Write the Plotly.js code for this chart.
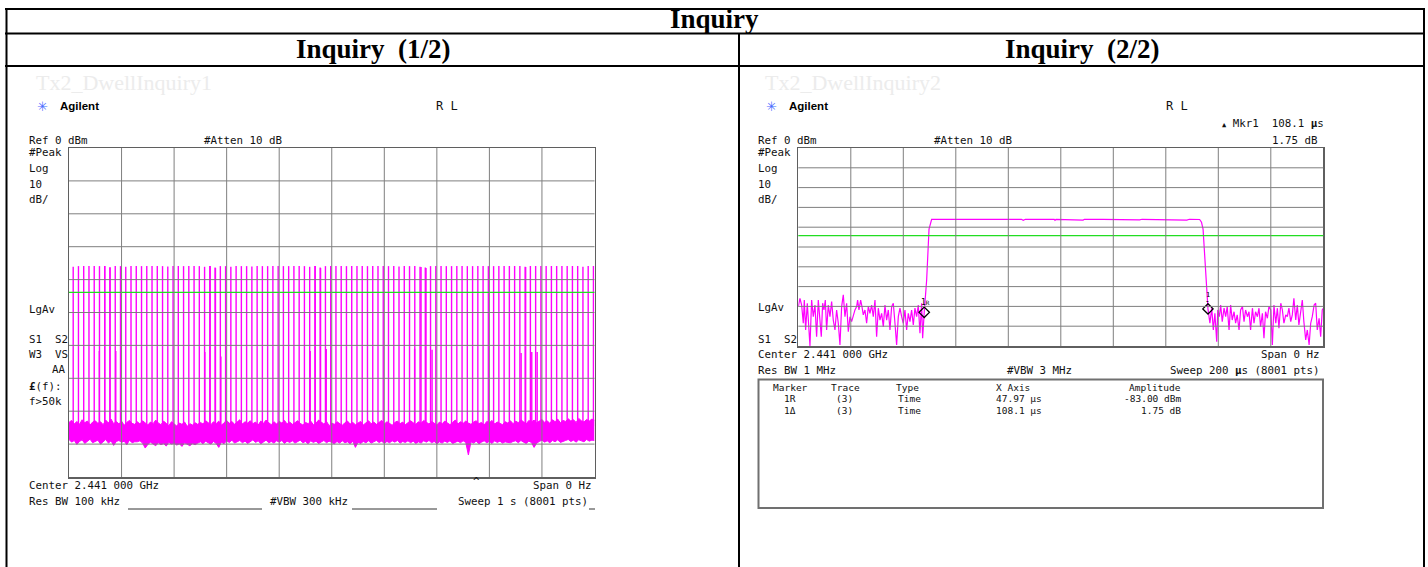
<!DOCTYPE html>
<html><head><meta charset="utf-8">
<script src="https://cdn.plot.ly/plotly-3.0.1.min.js"></script>
<style>html,body{margin:0;padding:0;background:#fff;}#chart{width:1428px;height:567px;}</style>
</head><body><div id="chart"></div>
<script>
// ---------------- DATA ----------------
// Left screen: sweep 1 s (ms), amplitude dBm
const sweepLeftMs = [0, 1000];
const ampRange = [-100, 0];
const pulseT = [8,18,28,38,48,58,68,78,88,98,108,118,128,138,148,158,168,178,188,198,
  208,218,228,238,248,258,268,278,288,298,308,318,328,338,348,358,368,378,388,398,
  408,418,428,438,448,458,468,478,488,498,508,518,528,538,548,558,568,578,588,598,
  608,618,628,638,648,658,668,678,688,698,708,718,728,738,748,758,768,778,788,798,
  808,818,828,838,848,858,868,878,888,898,908,918,928,938,948,958,968,978,988,998];
const pulsePk = [-36.1,-35.9,-35.9,-35.9,-35.9,-35.9,-35.9,-36.2,-35.9,-35.9,
  -36.1,-35.9,-35.9,-35.9,-35.9,-35.9,-35.9,-35.9,-36.0,-35.9,
  -35.9,-35.9,-35.9,-35.9,-35.9,-36.1,-35.9,-36.3,-35.9,-35.9,
  -36.1,-35.9,-35.9,-35.9,-36.0,-35.9,-35.9,-35.9,-35.9,-35.9,
  -35.9,-35.9,-35.9,-35.9,-35.9,-36.1,-35.9,-36.3,-35.9,-35.9,
  -35.9,-35.9,-35.9,-35.9,-35.9,-35.9,-35.9,-35.9,-35.9,-35.9,
  -35.9,-35.9,-36.0,-35.9,-35.9,-35.9,-36.1,-36.3,-35.9,-35.9,
  -35.9,-35.9,-35.9,-35.9,-35.9,-35.9,-35.9,-35.9,-35.9,-35.9,
  -35.9,-35.9,-35.9,-35.9,-35.9,-35.9,-36.1,-35.9,-35.9,-35.9,
  -35.9,-35.9,-35.9,-35.9,-35.9,-35.9,-35.9,-36.1,-35.9,-35.9];
const extraT  = [57.7,68,78,89, 258.5,268.6,278.7,289, 459,468.6,478.7,489.5, 657.7,669.9,679.4,690.9, 860.4,869,880.6,890.9];
const extraPk = [-61.7,-35.9,-36.5,-61.7, -62.0,-35.9,-36.5,-63.4, -61.7,-35.9,-36.5,-61.1, -61.0,-36.2,-36.5,-61.3, -62.3,-36.2,-62.0,-62.0];
const pulseFoot = -84.5;
const noiseStepMs = 5;
const noiseTop = [-83.4,-82.8,-83.9,-83.1,-84.0,-82.6,-83.5,-83.0,-84.2,-83.3,
-82.9,-83.7,-83.2,-84.1,-82.7,-83.6,-82.4,-83.8,-83.1,-83.9,
-83.0,-84.3,-83.4,-82.8,-83.7,-84.0,-83.2,-83.9,-82.9,-83.5,
-84.2,-83.3,-83.8,-82.7,-83.6,-84.1,-83.0,-83.7,-84.4,-83.2,
-83.9,-84.5,-83.6,-84.0,-83.3,-84.6,-83.8,-84.2,-83.5,-84.0,
-83.4,-83.9,-82.9,-83.6,-84.1,-83.2,-83.8,-83.0,-84.3,-83.5,
-82.8,-83.7,-83.1,-84.0,-83.4,-82.6,-83.9,-83.2,-83.6,-82.9,
-83.8,-83.3,-84.2,-83.0,-83.7,-82.7,-83.5,-84.1,-83.2,-83.9,
-83.1,-83.6,-82.8,-83.9,-83.3,-84.0,-83.5,-82.9,-83.7,-84.2,
-83.4,-83.8,-83.0,-84.1,-83.6,-82.7,-83.3,-83.9,-83.1,-84.4,
-83.6,-84.0,-83.2,-83.8,-84.3,-83.5,-83.0,-83.9,-83.4,-84.1,
-83.7,-83.1,-84.2,-83.6,-82.9,-83.8,-83.3,-84.0,-83.5,-82.8,
-83.9,-83.2,-83.7,-84.3,-83.4,-83.0,-83.8,-83.3,-84.1,-83.6,
-82.9,-83.5,-84.0,-83.2,-83.7,-82.8,-83.4,-83.9,-83.1,-83.6,
-84.2,-83.3,-83.8,-83.0,-83.5,-84.1,-83.4,-82.7,-83.9,-83.2,
-83.7,-83.0,-83.6,-84.0,-83.3,-82.9,-83.8,-83.4,-84.2,-83.1,
-83.5,-82.8,-83.9,-83.3,-83.7,-84.1,-83.2,-83.6,-82.9,-83.8,
-83.0,-83.5,-82.6,-83.4,-83.9,-82.8,-83.3,-82.7,-83.6,-83.0,
-82.5,-83.4,-82.9,-83.7,-82.6,-83.2,-82.4,-83.5,-82.8,-83.1,
-82.3,-83.0,-82.6,-83.4,-82.2,-82.9,-83.3,-82.5,-83.0,-82.4,
-82.7];
const noiseBot = [-88.6,-89.4,-88.9,-90.1,-89.2,-88.7,-89.8,-89.0,-88.5,-89.6,
-89.1,-88.8,-90.0,-89.3,-88.6,-89.7,-89.0,-90.4,-89.2,-88.9,
-89.5,-89.1,-90.2,-88.8,-89.6,-89.3,-89.3,-89.0,-89.7,-91.2,
-90.1,-89.4,-89.9,-90.5,-89.6,-90.2,-89.8,-90.6,-89.5,-90.0,
-89.7,-90.3,-89.9,-90.7,-89.6,-90.1,-90.5,-89.8,-90.2,-89.7,
-89.3,-89.9,-89.1,-89.6,-90.0,-89.2,-89.8,-91.0,-89.4,-89.9,
-89.0,-89.5,-88.8,-89.7,-89.2,-88.9,-89.6,-89.1,-89.8,-89.3,
-88.7,-89.5,-89.0,-89.9,-89.3,-88.8,-89.6,-89.2,-89.7,-89.0,
-89.4,-88.9,-89.8,-89.1,-89.5,-89.0,-89.7,-89.3,-88.8,-89.6,
-89.2,-89.9,-89.0,-89.5,-89.1,-89.8,-89.4,-88.9,-89.6,-89.1,
-89.5,-89.9,-89.2,-89.7,-89.0,-89.6,-89.3,-89.9,-89.1,-91.0,
-89.4,-89.8,-89.2,-89.6,-89.0,-89.7,-89.3,-88.9,-89.5,-89.1,
-89.8,-89.2,-89.6,-89.0,-89.4,-88.9,-89.7,-89.2,-89.5,-89.0,
-89.6,-89.1,-89.8,-89.3,-89.7,-89.0,-89.4,-88.9,-89.6,-89.2,
-89.9,-89.3,-89.7,-89.1,-89.5,-89.0,-89.8,-89.4,-89.1,-89.6,
-89.0,-89.5,-93.3,-89.3,-89.7,-89.1,-89.9,-89.4,-89.0,-89.6,
-89.2,-89.8,-89.0,-89.5,-89.1,-89.7,-89.3,-89.5,-89.6,-89.2,
-89.0,-89.6,-88.9,-89.4,-89.8,-89.1,-89.5,-91.0,-89.7,-89.2,
-88.8,-89.4,-89.0,-89.6,-88.9,-89.3,-88.7,-89.5,-89.1,-88.9,
-88.6,-89.2,-88.8,-89.4,-88.7,-89.0,-89.3,-88.6,-89.1,-88.8,
-88.9];
const displayLineLeft = -43.9;

// Right screen: sweep 200 us, amplitude dBm
const sweepRightUs = [0, 200];
const traceT = [0,0.63,1.27,1.9,2.29,2.79,3.43,3.94,4.44,5.08,5.71,6.35,6.98,7.62,8.25,8.76,9.27,9.78,10.29,10.79,
 11.43,12.06,12.7,13.33,13.97,14.6,15.24,15.87,16.51,17.14,17.78,18.41,19.05,19.68,20.32,20.95,21.59,22.22,22.6,23.11,
 23.75,24.25,24.76,25.4,26.03,26.67,27.3,27.94,28.57,29.21,29.84,30.48,31.11,31.75,32.38,33.02,33.65,34.29,34.92,35.56,
 36.19,36.83,37.46,38.1,38.73,39.37,40,40.63,41.27,41.9,42.54,43.17,43.81,44.44,45.08,45.71,46.35,46.98,47.37,47.97,
 48.9,49.8,50.8,60,70,85,85.7,86.5,97.5,97.8,98.2,106.6,108.5,109,115,116,130,131,148,149,152.9,153.6,154.2,154.9,155.3,155.8,156.07,
 156.8,157.5,158.1,158.7,159.4,159.8,160.4,160.9,161.5,162.2,162.8,163.4,164.1,164.7,165.3,166.0,166.6,167.2,167.9,168.5,
 169.2,169.8,170.4,171.1,171.7,172.3,173.0,173.6,174.2,174.9,175.5,176.1,176.8,177.4,178.0,178.7,179.3,180.0,180.6,181.2,
 181.9,182.5,183.1,183.8,184.4,185.0,185.7,186.3,186.9,187.6,188.2,188.8,189.5,190.1,190.7,191.4,192.0,192.6,193.3,193.9,
 194.6,195.2,195.8,196.5,197.1,197.7,198.4,199.0,199.6,200.0];
const traceV = [-80.1,-75.9,-79.3,-88.5,-76.8,-91.9,-78.4,-90.2,-100,-76.8,-85.2,-79.3,-95.3,-76.8,-87.7,-95.3,-78.4,-81.8,-76.8,-91.9,
 -79.3,-85.2,-77.6,-86.9,-91.9,-81.8,-88.5,-99.5,-80.1,-74.2,-85.2,-78.4,-92.8,-85.2,-87.7,-84.3,-81.8,-80.1,-76.8,-81.8,
 -76.8,-80.1,-84.3,-81.8,-88.5,-80.1,-83.5,-79.3,-85.2,-76.8,-95.3,-80.9,-86.9,-83.5,-90.2,-79.3,-86.9,-81.8,-91.9,-80.1,
 -78.4,-88.5,-99.5,-85.2,-80.9,-85.2,-88.5,-81.8,-91.9,-83.5,-87.7,-81.8,-89.4,-80.9,-85.2,-79.3,-93.6,-78.4,-96.1,-83.0,
 -66.7,-41,-36,-36.0,-36.0,-36.0,-36.5,-36.0,-36.0,-36.5,-36.0,-36.4,-36.4,-36.0,-36.3,-36.0,-36.3,-36.0,-36.4,-36.0,-36.1,-37.5,-41,-55,-63,-78,-81.25,
 -88.5,-80.9,-91.9,-83.5,-97.8,-81.8,-85.2,-79.3,-87.7,-80.9,-85.2,-80.1,-91.9,-79.3,-86.9,-82.7,-88.5,-84.3,-91.9,-81.8,
 -80.1,-87.7,-81.8,-85.2,-82.7,-91.9,-80.9,-88.5,-82.7,-85.2,-80.9,-90.2,-83.5,-96.1,-82.7,-86.0,-80.1,-81.8,-99.5,-79.3,
 -88.5,-80.9,-91.0,-78.4,-81.8,-88.5,-84.3,-85.2,-80.9,-87.7,-84.3,-75.9,-86.9,-79.3,-89.4,-81.8,-76.8,-87.7,-96.9,-91.9,
 -99.5,-88.5,-85.2,-79.3,-78.4,-91.9,-86.0,-95.3,-81.8,-80.9];
const markerT = [47.97, 156.07];
const markerV = [-83.0, -81.25];
const displayLineRight = -44.3;

// ---------------- LAYOUT HELPERS ----------------
const W = 1428, H = 567;
const X = p => p / W, Y = p => 1 - p / H;
const MONO = 'DejaVu Sans Mono', SERIF = 'Liberation Serif', SANS = 'Liberation Sans';
const MAG = '#ff00ff', GRID = '#7f7f7f';

function txt(text, x, y, o = {}) {
  const a = {text, x: X(x), y: Y(y), xref: 'paper', yref: 'paper', showarrow: false,
    xanchor: 'left', yanchor: 'middle', borderpad: 0,
    font: {family: MONO, size: 10.8, color: '#111'}};
  return Object.assign(a, o, {font: Object.assign({}, a.font, o.font || {})});
}
function pline(x0, y0, x1, y1, color = '#000', width = 2) {
  return {type: 'line', xref: 'paper', yref: 'paper', x0: X(x0), y0: Y(y0), x1: X(x1), y1: Y(y1), line: {color, width}, layer: 'above'};
}
function grid(xa, ya, xr, yr) {
  const s = [];
  for (let k = 1; k < 10; k++) {
    const xv = xr[0] + (xr[1] - xr[0]) * k / 10;
    s.push({type: 'line', xref: xa, yref: ya + ' domain', x0: xv, x1: xv, y0: 0, y1: 1, line: {color: GRID, width: 1}, layer: 'above'});
    const yv = yr[0] + (yr[1] - yr[0]) * k / 10;
    s.push({type: 'line', xref: xa + ' domain', yref: ya, x0: 0, x1: 1, y0: yv, y1: yv, line: {color: GRID, width: 1}, layer: 'above'});
  }
  return s;
}

// ---------------- TRACES ----------------
const noiseT = noiseTop.map((_, i) => i * noiseStepMs);
const px = [], py = [];
pulseT.forEach((t, i) => { px.push(t, t, null); py.push(pulseFoot, pulsePk[i], null); });
extraT.forEach((t, i) => { px.push(t, t, null); py.push(pulseFoot, extraPk[i], null); });

const traces = [
  {x: noiseT, y: noiseBot, xaxis: 'x', yaxis: 'y', mode: 'lines', line: {color: MAG, width: 1}, hoverinfo: 'skip'},
  {x: noiseT, y: noiseTop, xaxis: 'x', yaxis: 'y', mode: 'lines', fill: 'tonexty', fillcolor: MAG, line: {color: MAG, width: 1}, hoverinfo: 'skip'},
  {x: px, y: py, xaxis: 'x', yaxis: 'y', mode: 'lines', connectgaps: false, line: {color: MAG, width: 1.4}, hoverinfo: 'skip'},
  {x: traceT, y: traceV, xaxis: 'x2', yaxis: 'y2', mode: 'lines', line: {color: MAG, width: 1.2}, hoverinfo: 'skip'},
  {x: markerT, y: markerV, xaxis: 'x2', yaxis: 'y2', mode: 'markers', marker: {symbol: 'diamond-open', size: 8, color: '#000', line: {width: 1.3, color: '#000'}}, hoverinfo: 'skip'}
];

// ---------------- SHAPES ----------------
const shapes = [
  // table
  pline(5, 9, 1425, 9), pline(5, 33.5, 1425, 33.5), pline(5, 66, 1425, 66),
  pline(6.5, 8, 6.5, 567), pline(739, 33, 739, 567), pline(1424, 8, 1424, 567),
  // underlines left
  pline(128, 509, 262, 509, '#333', 1), pline(352, 509, 437, 509, '#333', 1), pline(589, 509, 595, 509, '#333', 1),
  // marker table box right
  {type: 'rect', xref: 'paper', yref: 'paper', x0: X(758.5), x1: X(1323), y0: Y(379.5), y1: Y(508), line: {color: '#707070', width: 2}},
  // display lines
  {type: 'line', xref: 'x domain', yref: 'y', x0: 0, x1: 1, y0: displayLineLeft, y1: displayLineLeft, line: {color: '#22dd22', width: 1.3}, layer: 'above'},
  {type: 'line', xref: 'x2 domain', yref: 'y2', x0: 0, x1: 1, y0: displayLineRight, y1: displayLineRight, line: {color: '#22dd22', width: 1.3}, layer: 'above'},
  ...grid('x', 'y', sweepLeftMs, ampRange),
  ...grid('x2', 'y2', sweepRightUs, ampRange)
];

// ---------------- ANNOTATIONS ----------------
const TITLE = {family: SERIF, size: 27, color: '#000'};
const TBL = {size: 9.5};
const LOGO = {family: 'DejaVu Sans', size: 13, color: '#4a6cff'};
const ann = [
  txt('<b>Inquiry</b>', 714, 19, {xanchor: 'center', font: TITLE}),
  txt('<b>Inquiry  (1/2)</b>', 373, 49, {xanchor: 'center', font: TITLE}),
  txt('<b>Inquiry  (2/2)</b>', 1082, 49, {xanchor: 'center', font: TITLE}),
  // left screen
  txt('Tx2_DwellInquiry1', 35, 82, {font: {family: SERIF, size: 22, color: '#ececec'}}),
  txt('✳', 42, 106, {xanchor: 'center', font: LOGO}),
  txt('<b>Agilent</b>', 59, 106, {font: {family: SANS, size: 11.5, color: '#000'}}),
  txt('R L', 435, 106, {font: {size: 12}}),
  txt('Ref 0 dBm', 28, 140), txt('#Atten 10 dB', 203, 140),
  txt('#Peak', 28, 153), txt('Log', 28, 169), txt('10', 28, 184), txt('dB/', 28, 199),
  txt('LgAv', 28, 309), txt('S1  S2', 28, 339), txt('W3  VS', 28, 354),
  txt('AA', 67, 369, {xanchor: 'right'}), txt('<b>£</b>(f):', 28, 386), txt('f>50k', 28, 401),
  txt('Center 2.441 000 GHz', 28, 485), txt('Span 0 Hz', 593, 485, {xanchor: 'right'}),
  txt('^', 477, 481, {xanchor: 'center'}),
  txt('Res BW 100 kHz', 28, 501), txt('#VBW 300 kHz', 269, 501),
  txt('Sweep 1 s (8001 pts)', 589, 501, {xanchor: 'right'}),
  // right screen
  txt('Tx2_DwellInquiry2', 764, 82, {font: {family: SERIF, size: 22, color: '#ececec'}}),
  txt('✳', 771, 106, {xanchor: 'center', font: LOGO}),
  txt('<b>Agilent</b>', 788, 106, {font: {family: SANS, size: 11.5, color: '#000'}}),
  txt('R L', 1165, 106, {font: {size: 12}}),
  txt('<span style="font-size:7px">▲</span> Mkr1  108.1 <b>µ</b>s', 1325, 123, {xanchor: 'right'}),
  txt('Ref 0 dBm', 757, 140), txt('#Atten 10 dB', 933, 140), txt('1.75 dB', 1319, 140, {xanchor: 'right'}),
  txt('#Peak', 757, 153), txt('Log', 757, 169), txt('10', 757, 184), txt('dB/', 757, 199),
  txt('LgAv', 757, 307), txt('S1  S2', 757, 339),
  txt('Center 2.441 000 GHz', 757, 354), txt('Span 0 Hz', 1321, 354, {xanchor: 'right'}),
  txt('Res BW 1 MHz', 757, 370), txt('#VBW 3 MHz', 1006, 370),
  txt('Sweep 200 <b>µ</b>s (8001 pts)', 1321, 370, {xanchor: 'right'}),
  // marker table
  txt('Marker', 772, 387, {font: TBL}), txt('Trace', 830, 387, {font: TBL}), txt('Type', 895, 387, {font: TBL}),
  txt('X Axis', 995, 387, {font: TBL}), txt('Amplitude', 1182, 387, {xanchor: 'right', font: TBL}),
  txt('1R', 783, 398.5, {font: TBL}), txt('(3)', 835, 398.5, {font: TBL}), txt('Time', 897, 398.5, {font: TBL}),
  txt('47.97 µs', 995, 398.5, {font: TBL}), txt('-83.00 dBm', 1182, 398.5, {xanchor: 'right', font: TBL}),
  txt('1Δ', 783, 410.5, {font: TBL}), txt('(3)', 835, 410.5, {font: TBL}), txt('Time', 897, 410.5, {font: TBL}),
  txt('108.1 µs', 995, 410.5, {font: TBL}), txt('1.75 dB', 1182, 410.5, {xanchor: 'right', font: TBL}),
  // marker labels on trace
  {text: '1<span style="font-size:6px">R</span>', x: markerT[0], y: markerV[0], xref: 'x2', yref: 'y2', showarrow: false, yshift: 10, xshift: 1, font: {family: MONO, size: 8, color: '#000'}},
  {text: '1', x: markerT[1], y: markerV[1], xref: 'x2', yref: 'y2', showarrow: false, yshift: 14, font: {family: MONO, size: 7, color: '#000'}},
  {text: '-', x: markerT[1], y: markerV[1], xref: 'x2', yref: 'y2', showarrow: false, yshift: 7, font: {family: MONO, size: 8, color: '#000'}}
];

const axBase = {showgrid: false, zeroline: false, showticklabels: false, ticks: '', showline: true, mirror: true,
  linecolor: '#5f5f5f', linewidth: 1.5, layer: 'above traces', fixedrange: true};
const layout = {
  width: W, height: H, margin: {l: 0, r: 0, t: 0, b: 0, pad: 0}, showlegend: false,
  paper_bgcolor: '#fff', plot_bgcolor: 'rgba(0,0,0,0)',
  xaxis: Object.assign({}, axBase, {domain: [X(69), X(594.5)], range: sweepLeftMs, anchor: 'y'}),
  yaxis: Object.assign({}, axBase, {domain: [Y(477), Y(148)], range: ampRange, anchor: 'x'}),
  xaxis2: Object.assign({}, axBase, {domain: [X(798.3), X(1323.3)], range: sweepRightUs, anchor: 'y2'}),
  yaxis2: Object.assign({}, axBase, {domain: [Y(346), Y(148)], range: ampRange, anchor: 'x2'}),
  shapes, annotations: ann
};
Plotly.newPlot('chart', traces, layout, {staticPlot: true, displayModeBar: false});
</script></body></html>
